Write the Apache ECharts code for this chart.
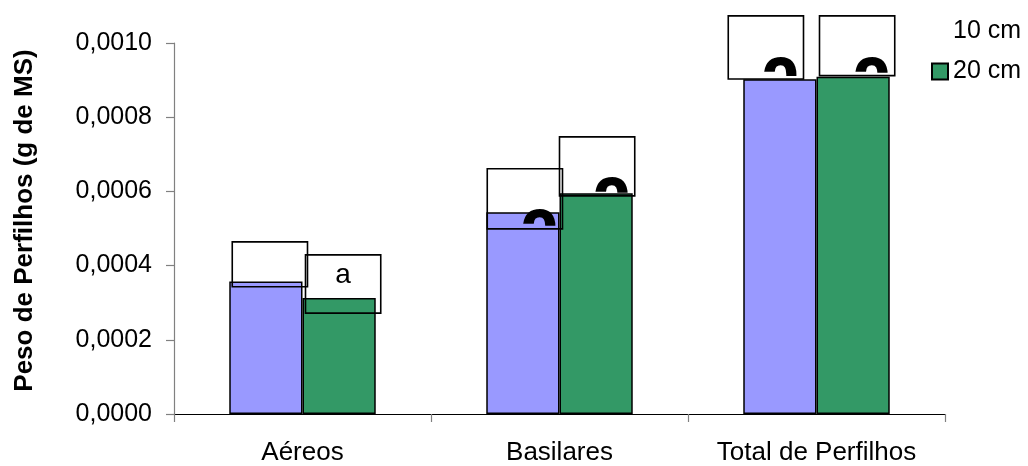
<!DOCTYPE html>
<html>
<head>
<meta charset="utf-8">
<script src="https://cdn.jsdelivr.net/npm/echarts@6/dist/echarts.min.js"></script>
<style>html,body{margin:0;padding:0;background:#fff}#c{width:1028px;height:466px}</style>
</head>
<body>
<div id="c"></div>
<script>
// ---- data ----
const categories = ['Aéreos', 'Basilares', 'Total de Perfilhos'];
const seriesNames = ['10 cm', '20 cm'];
const values10 = [0.000357, 0.000544, 0.000902];
const values20 = [0.000313, 0.000595, 0.000909];
// annotation boxes (value units): top / bottom
const boxTop10 = [0.000464, 0.000661, 0.001073];
const boxBottom10 = [0.000343, 0.000499, 0.000903];
const boxTop20 = [0.000429, 0.000747, 0.001073];
const boxBottom20 = [0.000272, 0.000588, 0.000912];
const letters10 = ['a', 'a', 'a'];
const letters20 = ['a', 'a', 'a'];
const yTickLabels = ['0,0000', '0,0002', '0,0004', '0,0006', '0,0008', '0,0010'];
const yAxisTitle = 'Peso de Perfilhos (g de MS)';

// ---- layout / style config ----
const FONT = 'Arial, "Liberation Sans", sans-serif';
const CAT_GAP = 0.43;
const boxShift = [[3, 1, -15], [3, 0, 3]];           // px shift of each box vs its bar
const glyphMode = [['big', 'big', 'big'], ['small', 'big', 'big']];
const glyphLift = [[3, 21, 23], [0, 20, 20]];          // px from box bottom to glyph top
const BIG_F = 74, BIG_SY = 1.25;

const chart = echarts.init(document.getElementById('c'), null, { renderer: 'canvas' });

function boxGeom(api) {
  const ci = api.value(0), s = api.value(3);
  const pTop = api.coord([ci, api.value(1)]);
  const pBot = api.coord([ci, api.value(2)]);
  const catW = api.size([1, 0])[0];
  const bw = catW * (1 - CAT_GAP) / 2;
  const x = pTop[0] + (s === 0 ? -bw : 0) + boxShift[s][ci];
  return { ci, s, x, y: pTop[1], w: bw + 2, h: pBot[1] - pTop[1] };
}

const boxData = [];
categories.forEach((c, i) => boxData.push([i, boxTop10[i], boxBottom10[i], 0]));
categories.forEach((c, i) => boxData.push([i, boxTop20[i], boxBottom20[i], 1]));

function renderBack(params, api) {
  const g = boxGeom(api);
  return { type: 'rect', shape: { x: g.x, y: g.y, width: g.w, height: g.h }, style: { fill: '#ffffff', stroke: null } };
}

function renderFront(params, api) {
  const g = boxGeom(api);
  const letter = (g.s === 0 ? letters10 : letters20)[g.ci];
  const mode = glyphMode[g.s][g.ci];
  const children = [];
  if (mode === 'small') {
    children.push({ type: 'text', x: g.x + g.w / 2, y: g.y + 20, z2: 2,
      style: { text: letter, font: '28px ' + FONT, fill: '#000', align: 'center', verticalAlign: 'middle' } });
  } else {
    const glyphTop = g.y + g.h - glyphLift[g.s][g.ci];
    children.push({
      type: 'group',
      clipPath: { type: 'rect', shape: { x: g.x + 1, y: g.y + 1, width: g.w - 5, height: g.h - 4 } },
      children: [{
        type: 'text', x: g.x + g.w - 2, y: glyphTop - 0.22 * BIG_F * BIG_SY, scaleX: 1, scaleY: BIG_SY, z2: 2,
        style: { text: letter, font: 'bold ' + BIG_F + 'px ' + FONT, fill: '#000', align: 'right', verticalAlign: 'top' }
      }]
    });
  }
  children.push({ type: 'rect', z2: 3, shape: { x: g.x, y: g.y, width: g.w, height: g.h },
    style: { fill: null, stroke: '#000', lineWidth: 1.6 } });
  return { type: 'group', children };
}

const option = {
  animation: false,
  backgroundColor: '#ffffff',
  grid: { left: 174, right: 83, top: 43, bottom: 51.5, containLabel: false },
  legend: {
    orient: 'vertical', left: 926, top: 14, itemWidth: 16, itemHeight: 16, itemGap: 15, icon: 'rect',
    textStyle: { fontSize: 25, fontFamily: FONT, color: '#000' },
    data: [
      { name: seriesNames[0], itemStyle: { opacity: 0, color: 'rgba(0,0,0,0)', borderColor: 'rgba(0,0,0,0)', borderWidth: 0 } },
      { name: seriesNames[1] }
    ]
  },
  xAxis: {
    type: 'category', data: categories,
    axisLine: { lineStyle: { color: '#000', width: 1.2 } },
    axisTick: { show: true, length: 8, lineStyle: { color: '#808080', width: 1.2 } },
    axisLabel: { fontSize: 26, fontFamily: FONT, color: '#000', margin: 26, interval: 0 },
    splitLine: { show: false }
  },
  yAxis: {
    type: 'value', min: 0, max: 0.001, interval: 0.0002,
    name: yAxisTitle, nameLocation: 'middle', nameGap: 136,
    nameTextStyle: { fontSize: 26, fontWeight: 'bold', fontFamily: FONT, color: '#000', padding: [0, 0, 0, 16] },
    axisLine: { show: true, lineStyle: { color: '#808080', width: 1.2 } },
    axisTick: { show: true, length: 8, lineStyle: { color: '#808080', width: 1.2 } },
    axisLabel: { fontSize: 25, fontFamily: FONT, color: '#000', margin: 22,
      formatter: (v) => yTickLabels[Math.round(v / 0.0002)] },
    splitLine: { show: false }
  },
  series: [
    { type: 'custom', z: 1, clip: false, renderItem: renderBack, data: boxData, silent: true },
    { type: 'bar', name: seriesNames[0], data: values10, barGap: '0%', barCategoryGap: (CAT_GAP * 100) + '%', z: 2,
      itemStyle: { color: '#9999FF', borderColor: '#000', borderWidth: 1.5 } },
    { type: 'bar', name: seriesNames[1], data: values20, barGap: '0%', barCategoryGap: (CAT_GAP * 100) + '%', z: 2,
      itemStyle: { color: '#339966', borderColor: '#000', borderWidth: 1.5 } },
    { type: 'custom', z: 3, clip: false, renderItem: renderFront, data: boxData, silent: true }
  ]
};
chart.setOption(option);
</script>
</body>
</html>
